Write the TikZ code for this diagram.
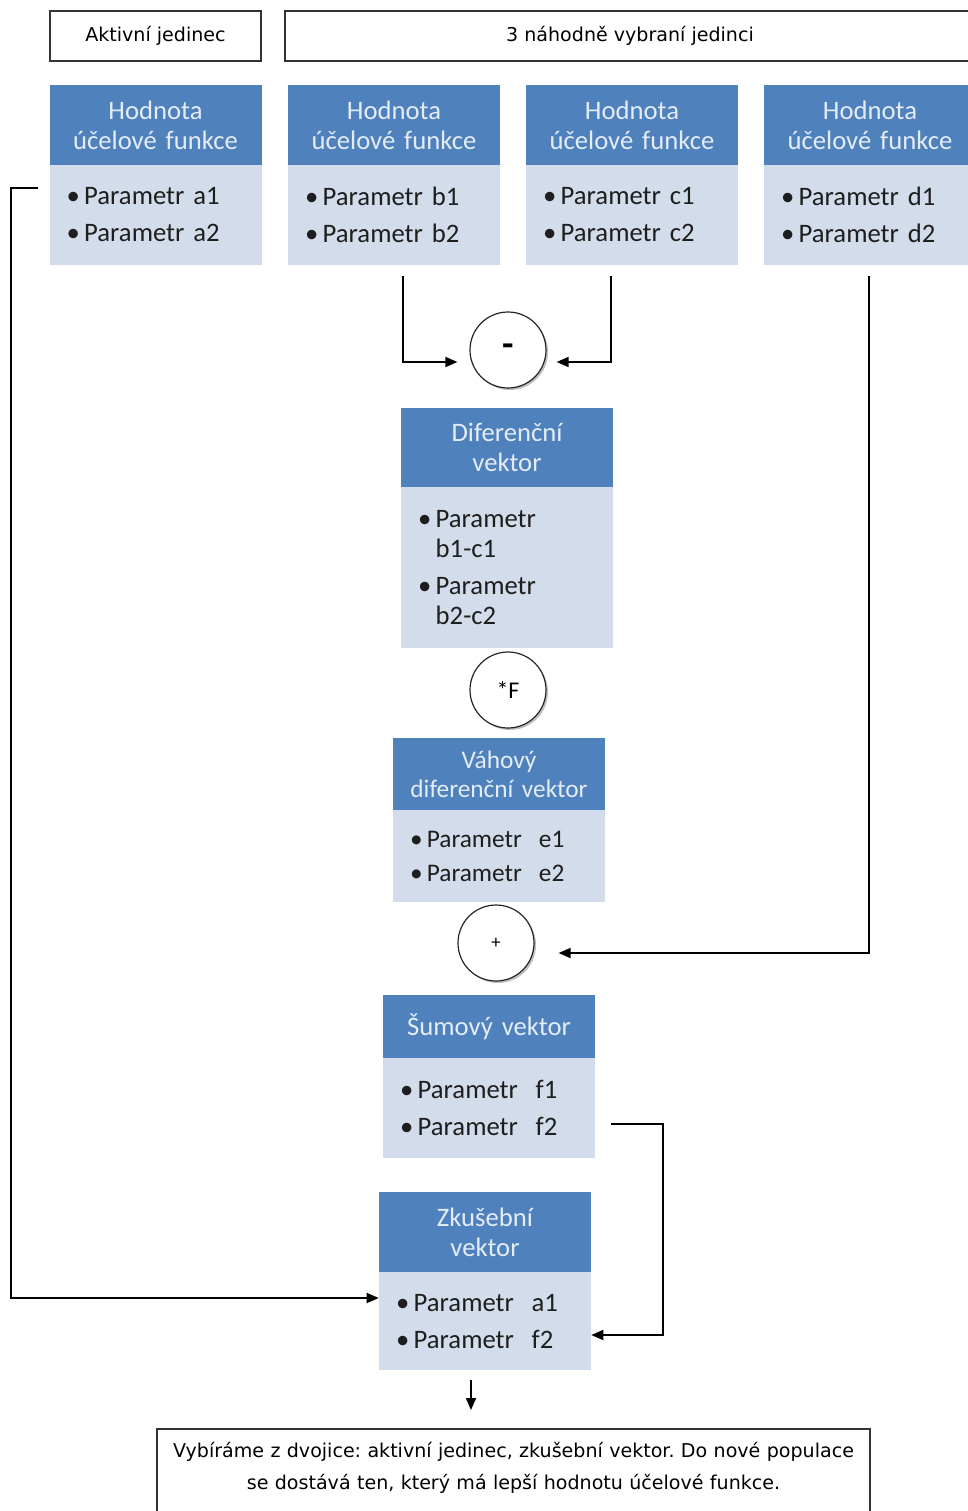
\documentclass[tikz,border=0pt]{standalone}
\usepackage{fontspec}
\setmainfont{Carlito}
\newfontfamily\lblfont{DejaVu Sans}
\usetikzlibrary{arrows}
\usetikzlibrary{arrows.meta}
\usetikzlibrary{shadows}
\frenchspacing

\definecolor{headblue}{HTML}{4F81BD}
\definecolor{bodyblue}{HTML}{D3DCEA}
\definecolor{headtext}{HTML}{E3ECF7}
\definecolor{bodytext}{HTML}{1E1E1E}

\begin{document}
\begin{tikzpicture}[x=0.75pt,y=-0.75pt,
  head/.style={rectangle,fill=headblue,text=headtext,minimum width=159pt,text width=150pt,align=center,inner sep=0pt,font=\fontsize{20}{22.5}\selectfont},
  body/.style={rectangle,fill=bodyblue,text=bodytext,minimum width=159pt,text width=133.5pt,align=left,inner sep=0pt,font=\fontsize{20}{22.5}\selectfont},
  lbl/.style={rectangle,draw=black!80,line width=1.2pt,inner sep=0pt,font=\lblfont\fontsize{14.3}{24}\selectfont},
  op/.style={circle,draw=black!85,fill=white,minimum size=57pt,line width=0.9pt,drop shadow={shadow xshift=1.5pt,shadow yshift=-1.5pt,fill=black!50}},
  arr/.style={-{Triangle[length=9pt,width=7.5pt]},line width=1.3pt}]
  \useasboundingbox (0,0) rectangle (968,1511);

  \node[lbl,minimum width=158.25pt,minimum height=37.5pt] (akt) at (155.5,36) {Aktivní jedinec};
  \node[lbl,minimum width=517.5pt,minimum height=37.5pt] (nah) at (630,36) {3 náhodně vybraní jedinci};

  \node[head,minimum height=60pt] (hA) at (155.5,125) {Hodnota\\účelové funkce};
  \node[body,minimum height=75pt] (bA) at (155.5,215) {\textbullet\,Parametr a1\\[5.25pt]\textbullet\,Parametr a2};
  \node[head,minimum height=60pt] (hB) at (394,125) {Hodnota\\účelové funkce};
  \node[body,minimum height=75pt] (bB) at (394,215) {\textbullet\,Parametr b1\\[5.25pt]\textbullet\,Parametr b2};
  \node[head,minimum height=60pt] (hC) at (632,125) {Hodnota\\účelové funkce};
  \node[body,minimum height=75pt] (bC) at (632,215) {\textbullet\,Parametr c1\\[5.25pt]\textbullet\,Parametr c2};
  \node[head,minimum height=60pt] (hD) at (870,125) {Hodnota\\účelové funkce};
  \node[body,minimum height=75pt] (bD) at (870,215) {\textbullet\,Parametr d1\\[5.25pt]\textbullet\,Parametr d2};

  \node[op,font=\fontsize{28}{28}\selectfont\bfseries] (minus) at (508,350) {-};

  \node[head,minimum height=59.25pt] (hDif) at (507,447.5) {Diferenční\\vektor};
  \node[body,minimum height=120.75pt] (bDif) at (507,567.5) {\textbullet\,Parametr\\\hphantom{\textbullet\,}b1-c1\\[5.25pt]\textbullet\,Parametr\\\hphantom{\textbullet\,}b2-c2};

  \node[op,font=\fontsize{18}{20}\selectfont] (mulF) at (508,690) {*F};

  \node[head,minimum height=54pt,font=\fontsize{19}{21.75}\selectfont] (hVah) at (499,774) {Váhový\\diferenční vektor};
  \node[body,minimum height=69pt,font=\fontsize{19}{21.75}\selectfont] (bVah) at (499,856) {\textbullet\,Parametr\ \ e1\\[3.75pt]\textbullet\,Parametr\ \ e2};

  \node[op,font=\fontsize{14}{16}\selectfont] (plus) at (496,943) {+};

  \node[head,minimum height=47.25pt] (hSum) at (489,1026.5) {Šumový vektor};
  \node[body,minimum height=75pt] (bSum) at (489,1108) {\textbullet\,Parametr\ \ f1\\[5.25pt]\textbullet\,Parametr\ \ f2};

  \node[head,minimum height=60pt] (hZku) at (485,1232) {Zkušební\\vektor};
  \node[body,minimum height=73.5pt] (bZku) at (485,1321) {\textbullet\,Parametr\ \ a1\\[5.25pt]\textbullet\,Parametr\ \ f2};

  \node[lbl,anchor=north,minimum width=534.75pt,text width=525pt,align=center,inner ysep=10pt] (fin) at (513.5,1428)
    {Vybíráme z dvojice: aktivní jedinec, zkušební vektor. Do nové populace\\se dostává ten, který má lepší hodnotu účelové funkce.\\\mbox{}};

  % spojnice
  \draw[arr,shorten >=9pt] ([xshift=6.75pt,yshift=-8.25pt]bB.south) |- ([yshift=-9pt]minus.west);
  \draw[arr,shorten >=7.5pt] ([xshift=-15.75pt,yshift=-8.25pt]bC.south) |- ([yshift=-9pt]minus.east);
  \draw[arr,shorten >=18pt] ([xshift=-0.75pt,yshift=-8.25pt]bD.south) |- ([yshift=-7.5pt]plus.east);

  \coordinate (sumOut) at ([xshift=12pt,yshift=-12pt]bSum.east);
  \coordinate (sumTurn) at (663,1335);
  \draw[arr] (sumOut) -| (sumTurn) -- ([yshift=-10.5pt]bZku.east);

  \coordinate (aktOut) at ([xshift=-8.25pt,yshift=20.25pt]bA.west);
  \coordinate (aktTurn) at (11,1298);
  \draw[arr] (aktOut) -| (aktTurn) -- ([yshift=17.25pt]bZku.west);

  \coordinate (zkuOut) at ([xshift=-10.5pt,yshift=-7.5pt]bZku.south);
  \draw[arr,shorten >=13.5pt] (zkuOut) -- (zkuOut |- fin.north);
\end{tikzpicture}
\end{document}
